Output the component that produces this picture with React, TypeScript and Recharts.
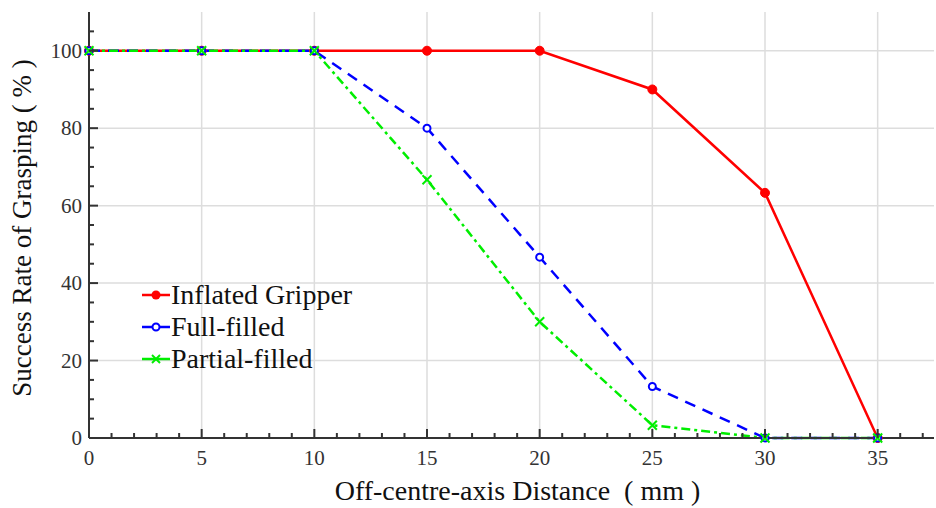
import React from 'react';
import { LineChart, Line, XAxis, YAxis, CartesianGrid, Legend } from 'recharts';

const distances = [0, 5, 10, 15, 20, 25, 30, 35];
const inflatedGripper = [100, 100, 100, 100, 100, 90, 63.3, 0];
const fullFilled = [100, 100, 100, 80, 46.7, 13.3, 0, 0];
const partialFilled = [100, 100, 100, 66.7, 30, 3.3, 0, 0];

const xMajorTicks = [0, 5, 10, 15, 20, 25, 30, 35];
const xMinorTicks = [0, 1, 2, 3, 4, 5, 6, 7, 8, 9, 10, 11, 12, 13, 14, 15, 16, 17, 18, 19, 20, 21, 22, 23, 24, 25, 26, 27, 28, 29, 30, 31, 32, 33, 34, 35, 36, 37];
const yMajorTicks = [0, 20, 40, 60, 80, 100];
const yMinorTicks = [0, 5, 10, 15, 20, 25, 30, 35, 40, 45, 50, 55, 60, 65, 70, 75, 80, 85, 90, 95, 100, 105];

const xTitle = 'Off-centre-axis Distance \u00a0( mm )';
const yTitle = 'Success Rate of Grasping ( % )';

const seriesNames = ['Inflated Gripper', 'Full-filled', 'Partial-filled'];
const colors = ['#ff0000', '#0000ff', '#00ee00'];

const data = distances.map((d, i) => ({
  d,
  inflated: inflatedGripper[i],
  full: fullFilled[i],
  partial: partialFilled[i],
}));

const FONT = '"Liberation Serif", "Times New Roman", Times, serif';

const BottomTick = (props: any) => {
  const { x, y, payload } = props;
  const major = xMajorTicks.includes(payload.value);
  return (
    <g>
      <line x1={x} y1={y} x2={x} y2={y - (major ? 9 : 5)} stroke="#333" strokeWidth={2} />
      {major && (
        <text x={x} y={y + 27} textAnchor="middle" fontFamily={FONT} fontSize={21} fill="#333">
          {payload.value}
        </text>
      )}
    </g>
  );
};

const TopTick = (props: any) => {
  const { x, y, payload } = props;
  const major = xMajorTicks.includes(payload.value);
  return <line x1={x} y1={y} x2={x} y2={y + (major ? 9 : 5)} stroke="#333" strokeWidth={2} />;
};

const LeftTick = (props: any) => {
  const { x, y, payload } = props;
  const major = yMajorTicks.includes(payload.value);
  return (
    <g>
      <line x1={x} y1={y} x2={x + (major ? 9 : 5)} y2={y} stroke="#333" strokeWidth={2} />
      {major && (
        <text x={x - 7} y={y + 7} textAnchor="end" fontFamily={FONT} fontSize={21} fill="#333">
          {payload.value}
        </text>
      )}
    </g>
  );
};

const RedDot = (props: any) => {
  const { cx, cy } = props;
  return <circle cx={cx} cy={cy} r={4.5} fill={colors[0]} stroke={colors[0]} />;
};
const BlueDot = (props: any) => {
  const { cx, cy } = props;
  return <circle cx={cx} cy={cy} r={3.5} fill="#fff" stroke={colors[1]} strokeWidth={2} />;
};
const GreenDot = (props: any) => {
  const { cx, cy } = props;
  const s = 4.5;
  return (
    <g stroke={colors[2]} strokeWidth={2}>
      <line x1={cx - s} y1={cy - s} x2={cx + s} y2={cy + s} />
      <line x1={cx - s} y1={cy + s} x2={cx + s} y2={cy - s} />
    </g>
  );
};

const LegendContent = () => {
  const markers = [
    <circle cx={14} cy={10} r={4.5} fill={colors[0]} />,
    <circle cx={14} cy={10} r={3.5} fill="#fff" stroke={colors[1]} strokeWidth={2} />,
    <g stroke={colors[2]} strokeWidth={2}>
      <line x1={10} y1={6} x2={18} y2={14} />
      <line x1={10} y1={14} x2={18} y2={6} />
    </g>,
  ];
  return (
    <div style={{ fontFamily: FONT, fontSize: 28, color: '#111', lineHeight: '32px' }}>
      {seriesNames.map((n, i) => (
        <div key={n} style={{ display: 'flex', alignItems: 'center', height: 32 }}>
          <svg width={28} height={20} style={{ marginRight: 1 }}>
            <line x1={0} y1={10} x2={28} y2={10} stroke={colors[i]} strokeWidth={2.5} />
            {markers[i]}
          </svg>
          <span>{n}</span>
        </div>
      ))}
    </div>
  );
};

export default function App() {
  return (
    <div style={{ position: 'absolute', left: 0, top: 0, width: 936, height: 508, background: '#fff' }}>
      <LineChart width={936} height={508} data={data} margin={{ top: 12, right: 2, left: 0, bottom: 0 }}>
        <CartesianGrid
          stroke="#dddddd"
          strokeWidth={1.5}
          horizontalValues={yMajorTicks.slice(1)}
          verticalValues={xMajorTicks.slice(1)}
        />
        <XAxis
          dataKey="d"
          type="number"
          domain={[0, 37.5]}
          ticks={xMinorTicks}
          interval={0}
          height={70}
          tickSize={0}
          tickMargin={0}
          tick={<BottomTick />}
          axisLine={{ stroke: '#333', strokeWidth: 2 }}
          tickLine={false}
          label={{
            content: (p: any) => {
              const vb = p.viewBox;
              return (
                <text x={vb.x + vb.width / 2 + 6} y={vb.y + 62} textAnchor="middle" fontFamily={FONT} fontSize={28} fill="#111">
                  {xTitle}
                </text>
              );
            },
          }}
        />
        <XAxis
          xAxisId="top"
          orientation="top"
          type="number"
          domain={[0, 37.5]}
          ticks={xMinorTicks}
          interval={0}
          height={0}
          tickSize={0}
          tickMargin={0}
          tick={<TopTick />}
          axisLine={{ stroke: '#333', strokeWidth: 2 }}
          tickLine={false}
        />
        <YAxis
          type="number"
          domain={[0, 110]}
          ticks={yMinorTicks}
          interval={0}
          width={89}
          tickSize={0}
          tickMargin={0}
          tick={<LeftTick />}
          axisLine={{ stroke: '#333', strokeWidth: 2 }}
          tickLine={false}
          label={{
            content: (p: any) => {
              const vb = p.viewBox;
              const cx = 22;
              const cy = vb.y + vb.height / 2 + 3;
              return (
                <text x={cx} y={cy} transform={`rotate(-90 ${cx} ${cy})`} textAnchor="middle" dominantBaseline="central" fontFamily={FONT} fontSize={27} fill="#111">
                  {yTitle}
                </text>
              );
            },
          }}
        />
        <Legend
          layout="horizontal"
          verticalAlign="middle"
          align="center"
          wrapperStyle={{ left: 142, top: 279, width: 260 }}
          content={<LegendContent />}
        />
        <Line
          dataKey="inflated"
          stroke={colors[0]}
          strokeWidth={2.5}
          dot={<RedDot />}
          isAnimationActive={false}
        />
        <Line
          dataKey="full"
          stroke={colors[1]}
          strokeWidth={2.5}
          strokeDasharray="11 8"
          dot={<BlueDot />}
          isAnimationActive={false}
        />
        <Line
          dataKey="partial"
          stroke={colors[2]}
          strokeWidth={2.5}
          strokeDasharray="9 4 3 4"
          dot={<GreenDot />}
          isAnimationActive={false}
        />
      </LineChart>
    </div>
  );
}
